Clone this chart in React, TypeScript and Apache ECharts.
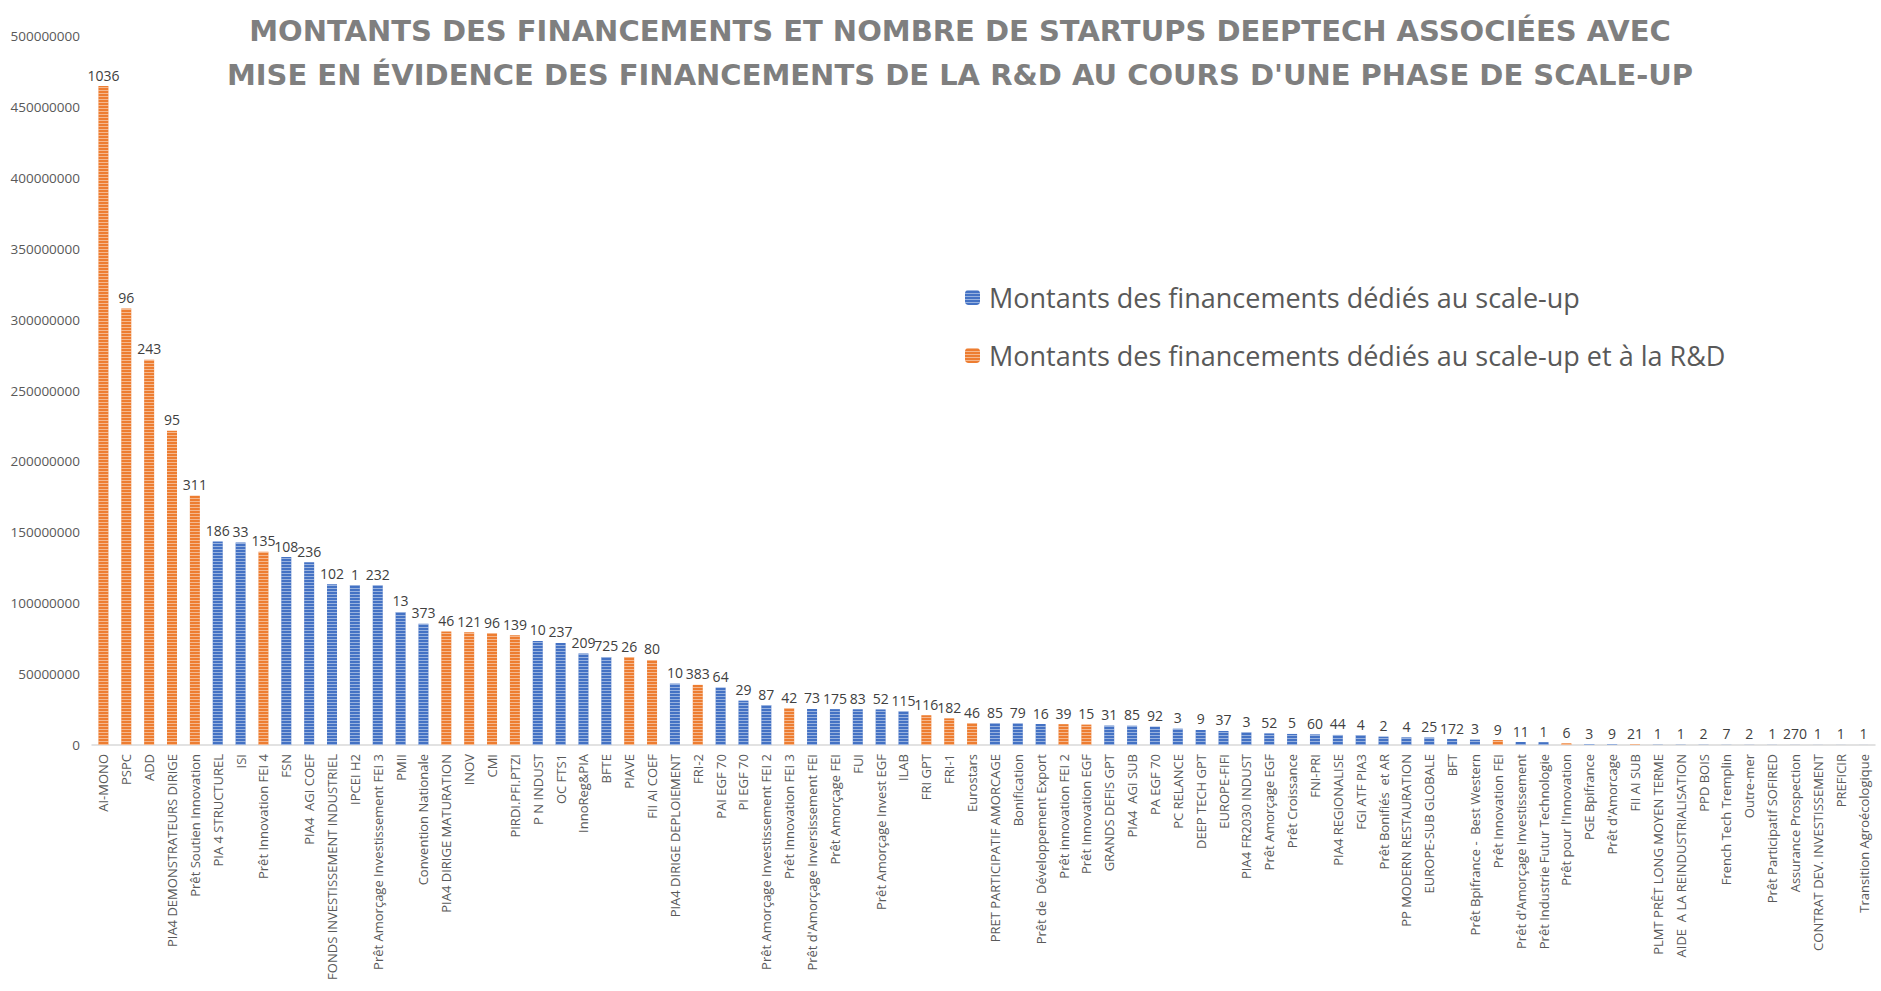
import React, { useEffect, useRef } from "react";
import * as echarts from "echarts";

const categories = [
  "AI-MONO", "PSPC", "ADD", "PIA4 DEMONSTRATEURS DIRIGE", "Prêt Soutien Innovation",
  "PIA 4 STRUCTUREL", "ISI", "Prêt Innovation FEI 4", "FSN", "PIA4  AGI COEF",
  "FONDS INVESTISSEMENT INDUSTRIEL", "IPCEI H2", "Prêt Amorçage Investissement FEI 3", "PMII", "Convention Nationale",
  "PIA4 DIRIGE MATURATION", "INOV", "CMI", "PIRDI.PFI.PTZI", "P N INDUST",
  "OC FTS1", "InnoReg&PIA", "BFTE", "PIAVE", "FII AI COEF",
  "PIA4 DIRIGE DEPLOIEMENT", "FRI-2", "PAI EGF 70", "PI EGF 70", "Prêt Amorçage Investissement FEI 2",
  "Prêt Innovation FEI 3", "Prêt d'Amorçage Inversissement FEI", "Prêt Amorçage FEI", "FUI", "Prêt Amorçage Invest EGF",
  "ILAB", "FRI GPT", "FRI-1", "Eurostars", "PRET PARTICIPATIF AMORCAGE",
  "Bonification", "Prêt de  Développement Export", "Prêt innovation FEI 2", "Prêt Innovation EGF", "GRANDS DEFIS GPT",
  "PIA4  AGI SUB", "PA EGF 70", "PC RELANCE", "DEEP TECH GPT", "EUROPE-FIFI",
  "PIA4 FR2030 INDUST", "Prêt Amorçage EGF", "Prêt Croissance", "FNI-PRI", "PIA4 REGIONALISE",
  "FGI ATF PIA3", "Prêt Bonifiés  et AR", "PP MODERN RESTAURATION", "EUROPE-SUB GLOBALE", "BFT",
  "Prêt Bpifrance -  Best Western", "Prêt Innovation FEI", "Prêt d'Amorçage Investissement", "Prêt Industrie Futur Technologie", "Prêt pour l'Innovation",
  "PGE Bpifrance", "Prêt d'Amorcage", "FII AI SUB", "PLMT PRÊT LONG MOYEN TERME", "AIDE  A LA REINDUSTRIALISATION",
  "PPD BOIS", "French Tech Tremplin", "Outre-mer", "Prêt Participatif SOFIRED", "Assurance Prospection",
  "CONTRAT DEV. INVESTISSEMENT", "PREFICIR", "Transition Agroécologique",
];

// Funding amounts (euros)
const amounts = [
  464700000, 307900000, 271600000, 221600000, 175700000,
  143500000, 142800000, 136300000, 132500000, 128800000,
  113400000, 112800000, 112700000, 93800000, 85500000,
  80000000, 79600000, 78900000, 77400000, 73400000,
  72000000, 64500000, 62100000, 62000000, 60000000,
  43300000, 42400000, 40500000, 31300000, 28200000,
  25900000, 25400000, 25300000, 25200000, 25100000,
  23800000, 21000000, 18800000, 15500000, 15400000,
  15300000, 14800000, 14700000, 14400000, 13700000,
  13600000, 12900000, 11500000, 10600000, 9900000,
  9000000, 8200000, 7800000, 7500000, 7100000,
  7000000, 5900000, 5400000, 5300000, 4200000,
  3800000, 3500000, 2100000, 2000000, 1200000,
  700000, 650000, 600000, 200000, 180000,
  150000, 100000, 90000, 80000, 60000,
  50000, 40000, 30000,
];

// Number of deeptech startups associated (bar labels)
const startups = [
  1036, 96, 243, 95, 311,
  186, 33, 135, 108, 236,
  102, 1, 232, 13, 373,
  46, 121, 96, 139, 10,
  237, 209, 725, 26, 80,
  10, 383, 64, 29, 87,
  42, 73, 175, 83, 52,
  115, 116, 182, 46, 85,
  79, 16, 39, 15, 31,
  85, 92, 3, 9, 37,
  3, 52, 5, 60, 44,
  4, 2, 4, 25, 172,
  3, 9, 11, 1, 6,
  3, 9, 21, 1, 1,
  2, 7, 2, 1, 270,
  1, 1, 1,
];

// 1 = financements dédiés au scale-up et à la R&D (orange), 0 = scale-up only (blue)
const rdFlags = [
  1, 1, 1, 1, 1,
  0, 0, 1, 0, 0,
  0, 0, 0, 0, 0,
  1, 1, 1, 1, 0,
  0, 0, 0, 1, 1,
  0, 1, 0, 0, 0,
  1, 0, 0, 0, 0,
  0, 1, 1, 1, 0,
  0, 0, 1, 1, 0,
  0, 0, 0, 0, 0,
  0, 0, 0, 0, 0,
  0, 0, 0, 0, 0,
  0, 1, 0, 0, 1,
  0, 0, 1, 0, 0,
  0, 0, 0, 0, 0,
  0, 0, 0,
];

const seriesNames = [
  "Montants des financements dédiés au scale-up",
  "Montants des financements dédiés au scale-up et à la R&D",
];

const yTicks = { min: 0, max: 500000000, interval: 50000000 };

const BLUE = "#4472C4";
const ORANGE = "#ED7D31";
const FONT = "'Open Sans', 'Noto Sans', sans-serif";

export default function App() {
  const ref = useRef<HTMLDivElement>(null);
  useEffect(() => {
    if (!ref.current) return;
    const chart = echarts.init(ref.current, null, { renderer: "svg" });
    const blueData = amounts.map((v, i) => (rdFlags[i] ? null : v));
    const orangeData = amounts.map((v, i) => (rdFlags[i] ? v : null));
    const decal = {
      symbol: "rect",
      symbolSize: 1,
      dashArrayX: [1, 0],
      dashArrayY: [1, 2],
      color: "rgba(255,255,255,0.45)",
    };
    const label = {
      show: true,
      position: "top",
      distance: 4,
      color: "#404040",
      fontSize: 14,
      fontFamily: FONT,
      formatter: (p: any) => String(startups[p.dataIndex]),
    };
    chart.setOption({
      animation: false,
      backgroundColor: "#ffffff",
      title: {
        text: "MONTANTS DES FINANCEMENTS ET NOMBRE DE STARTUPS DEEPTECH ASSOCIÉES AVEC\nMISE EN ÉVIDENCE DES FINANCEMENTS DE LA R&D AU COURS D'UNE PHASE DE SCALE-UP",
        left: 955,
        top: 4,
        textAlign: "center",
        textStyle: {
          color: "#7F7F7F",
          fontSize: 29,
          fontWeight: "bold",
          fontFamily: "'DejaVu Sans', 'Open Sans', sans-serif",
          lineHeight: 44,
        },
      },
      legend: {
        orient: "vertical",
        left: 960,
        top: 276,
        itemWidth: 15,
        itemHeight: 15,
        itemGap: 25,
        textStyle: {
          color: "#595959",
          fontSize: 27,
          fontFamily: FONT,
          lineHeight: 33,
          padding: [0, 0, 0, 4],
        },
        data: seriesNames,
      },
      grid: { left: 92, right: 6, top: 36, bottom: 246, containLabel: false },
      xAxis: {
        type: "category",
        data: categories,
        axisTick: { show: false },
        axisLine: { lineStyle: { color: "#D9D9D9", width: 1.5 } },
        axisLabel: {
          interval: 0,
          rotate: 90,
          margin: 9,
          color: "#595959",
          fontSize: 13,
          fontFamily: FONT,
        },
      },
      yAxis: {
        type: "value",
        min: yTicks.min,
        max: yTicks.max,
        interval: yTicks.interval,
        splitLine: { show: false },
        axisLine: { show: false },
        axisTick: { show: false },
        axisLabel: {
          color: "#595959",
          fontSize: 13.5,
          fontFamily: FONT,
          margin: 12,
          formatter: (v: number) => String(v),
        },
      },
      series: [
        {
          name: seriesNames[0],
          type: "bar",
          data: blueData,
          barWidth: 10,
          barGap: "-100%",
          itemStyle: { color: BLUE, decal },
          label,
        },
        {
          name: seriesNames[1],
          type: "bar",
          data: orangeData,
          barWidth: 10,
          barGap: "-100%",
          itemStyle: { color: ORANGE, decal },
          label,
        },
      ],
    });
    return () => chart.dispose();
  }, []);
  return (
    <div
      ref={ref}
      style={{ position: "fixed", left: 0, top: 0, width: 1881, height: 991 }}
    />
  );
}
